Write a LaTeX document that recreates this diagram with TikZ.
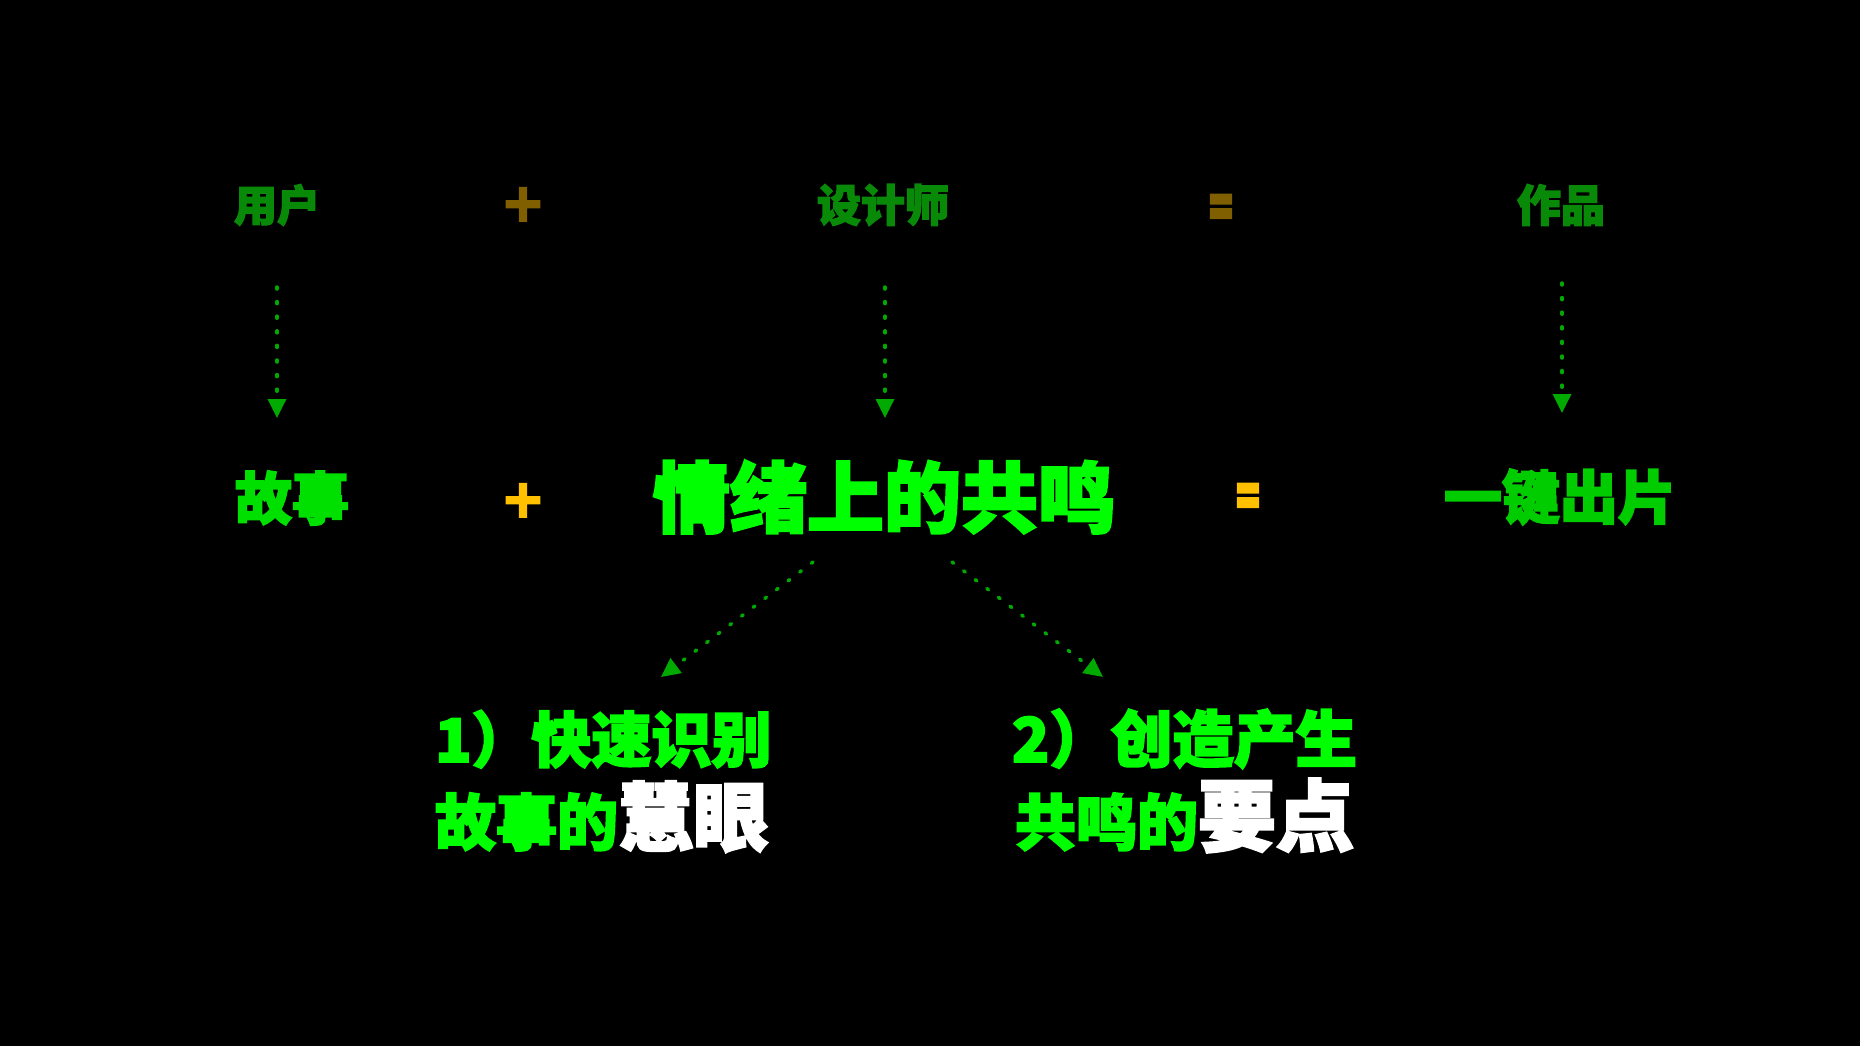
\documentclass[tikz,border=0pt]{standalone}
\usepackage{fontspec}
\usetikzlibrary{arrows.meta}
\newfontfamily\heavy[BoldFeatures={FakeBold=3}]{Noto Sans CJK SC}
\newfontfamily\symheavy[BoldFeatures={FakeBold=6}]{Noto Sans CJK SC}
\definecolor{dkgreen}{HTML}{088A08}
\definecolor{brownop}{HTML}{7F5F00}
\definecolor{brgreen}{HTML}{00FF00}
\definecolor{midgreen}{HTML}{00E000}
\definecolor{kgreen}{HTML}{00CC00}
\definecolor{orangeop}{HTML}{FFC000}
\definecolor{arrgreen}{HTML}{00AA00}
\tikzset{
  txt/.style={inner sep=0pt, outer sep=0pt},
  fs/.style={font=\heavy\bfseries\fontsize{#1}{#1}\selectfont},
  sfs/.style={font=\symheavy\bfseries\fontsize{#1}{#1}\selectfont},
  dotarrow/.style={draw=arrgreen, line width=3.5pt, line cap=round,
    dash pattern=on 2pt off 12.6pt,
    -{Triangle[length=19pt,width=18pt,fill=arrgreen]}}
}
\begin{document}
\begin{tikzpicture}[x=1pt,y=-1pt]
\useasboundingbox (0,0) rectangle (1860,1046);
\fill[black] (0,0) rectangle (1860,1046);
% top row
\node[txt, fs=43, text=dkgreen] (yonghu) at (277,205) {用户};
\node[txt, sfs=46, text=brownop] (plus1) at (523,205) {＋};
\node[txt, fs=44, text=dkgreen] (sheji) at (883,205) {设计师};
\node[txt, sfs=58, text=brownop, xscale=0.5, yscale=1.05] (eq1) at (1221,213) {＝};
\node[txt, fs=44, text=dkgreen] (zuopin) at (1561,205) {作品};
% second row
\node[txt, fs=57, text=midgreen] (gushi) at (292,498) {故事};
\node[txt, sfs=46, text=orangeop] (plus2) at (523,501) {＋};
\node[txt, fs=77, text=brgreen] (qingxu) at (884,497) {情绪上的共鸣};
\node[txt, sfs=58, text=orangeop, xscale=0.5, yscale=1.05] (eq2) at (1248,502) {＝};
\node[txt, fs=58, text=kgreen] (yijian) at (1560,497) {一键出片};
% arrow coordinates
\coordinate (a1s) at (277,287);
\coordinate (a1e) at (277,418);
\coordinate (a2s) at (885,287);
\coordinate (a2e) at (885,418);
\coordinate (a3s) at (1562,283);
\coordinate (a3e) at (1562,413);
\coordinate (a4s) at (813,562);
\coordinate (a4e) at (661,677);
\coordinate (a5s) at (952,562);
\coordinate (a5e) at (1103,677);
\draw[dotarrow] (a1s) -- (a1e);
\draw[dotarrow] (a2s) -- (a2e);
\draw[dotarrow] (a3s) -- (a3e);
\draw[dotarrow] (a4s) -- (a4e);
\draw[dotarrow] (a5s) -- (a5e);
% bottom blocks
\node[txt, fs=60, text=brgreen, anchor=base west] (l1) at (435,762) {1）快速识别};
\node[txt, fs=61, text=brgreen, anchor=base west] (l2) at (435,845) {故事的\fontsize{75}{75}\selectfont\textcolor{white}{慧眼}};
\node[txt, fs=61.5, text=brgreen, anchor=base west] (r1) at (1012,762) {2）创造产生};
\node[txt, fs=61, text=brgreen, anchor=base west] (r2) at (1015,845) {共鸣的\fontsize{78}{78}\selectfont\textcolor{white}{要点}};
\end{tikzpicture}
\end{document}
